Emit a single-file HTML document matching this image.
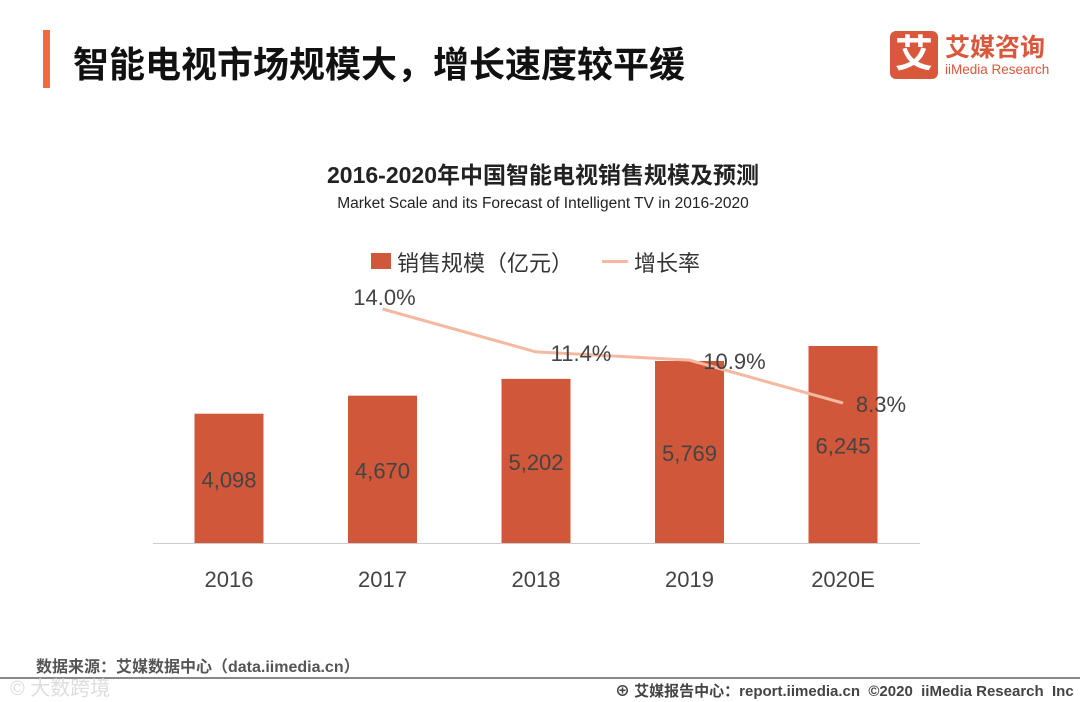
<!DOCTYPE html>
<html><head><meta charset="utf-8"><style>
body{margin:0;width:1080px;height:702px;background:#fff;overflow:hidden;font-family:"Liberation Sans","Noto Sans CJK SC",sans-serif;position:relative}
.a{position:absolute;white-space:nowrap}
</style></head><body>
<div class="a" style="left:43px;top:30px;width:7px;height:58px;background:#f26b3a"></div>
<div class="a" style="left:73px;top:36px;font-size:36px;font-weight:bold;color:#111">智能电视市场规模大，增长速度较平缓</div>
<div class="a" style="left:890px;top:31px;width:48px;height:48px;background:#d9573a;border-radius:6px;color:#fff;font-size:38px;font-weight:bold;text-align:center;line-height:48px">艾</div>
<div class="a" style="left:945px;top:28px;font-size:25px;font-weight:bold;color:#d9573a">艾媒咨询</div>
<div class="a" style="left:945px;top:62px;font-size:13.5px;color:#d9573a">iiMedia Research</div>
<div class="a" style="left:0;width:1086px;text-align:center;top:156px;font-size:23px;font-weight:bold;color:#222">2016-2020年中国智能电视销售规模及预测</div>
<div class="a" style="left:0;width:1086px;text-align:center;top:195px;font-size:15.5px;color:#222">Market Scale and its Forecast of Intelligent TV in 2016-2020</div>
<div class="a" style="left:371px;top:253px;width:20px;height:16px;background:#d0573a"></div>
<div class="a" style="left:397px;top:246px;font-size:22px;color:#333">销售规模（亿元）</div>
<div class="a" style="left:602px;top:260px;width:26px;height:3px;background:#f4b9a0"></div>
<div class="a" style="left:634px;top:246px;font-size:22px;color:#333">增长率</div>
<svg class="a" style="left:0;top:0" width="1080" height="702">
<g id="g"></g></svg>
<div class="a" style="left:36px;top:653px;font-size:16px;color:#555;font-weight:bold">数据来源：艾媒数据中心（data.iimedia.cn）</div>
<div class="a" style="left:0;top:677px;width:1080px;height:2px;background:#888"></div>
<div class="a" style="left:10px;top:672px;font-size:20px;color:#ddd">© 大数跨境</div>
<div class="a" style="left:615px;top:680px;font-size:15px;color:#444;font-weight:bold">⊕ 艾媒报告中心：report.iimedia.cn &nbsp;©2020 &nbsp;iiMedia Research &nbsp;Inc</div>
<script>
const categories=["2016","2017","2018","2019","2020E"];
const sales=[4098,4670,5202,5769,6245];
const salesLabels=["4,098","4,670","5,202","5,769","6,245"];
const growth=[null,14.0,11.4,10.9,8.3];
const NS="http://www.w3.org/2000/svg",g=document.getElementById('g');
const x=i=>229+i*153.5, yb=v=>543-v*0.03155, yl=v=>540-v*16.5;
function mk(t,a,txt){const e=document.createElementNS(NS,t);for(const k in a)e.setAttribute(k,a[k]);if(txt!=null)e.textContent=txt;g.appendChild(e);return e;}
let ax=mk('line',{x1:153,x2:920,y1:543.5,y2:543.5,stroke:'#ccc','stroke-width':1});


sales.forEach((v,i)=>{
 let r=mk('rect',{x:x(i)-34.5,y:yb(v),width:69,height:543-yb(v),fill:'#d0573a'});
 
 
 let t=mk('text',{x:x(i),y:(yb(v)+543)/2+9,'text-anchor':'middle','font-size':22,fill:'#444','font-family':'Liberation Sans'},salesLabels[i]);
 
 
 let c=mk('text',{x:x(i),y:587,'text-anchor':'middle','font-size':22,fill:'#444','font-family':'Liberation Sans'},categories[i]);
 
 
});
const pts=[];growth.forEach((v,i)=>{if(v!=null)pts.push([x(i),yl(v),v,i]);});
let p=mk('polyline',{points:pts.map(q=>q[0]+','+q[1]).join(' '),fill:'none',stroke:'#f4b9a0','stroke-width':3});


pts.forEach((q,k)=>{
 let tx=k==0?q[0]+2:(k==3?q[0]+38:q[0]+45), ty=k==0?q[1]-4:q[1]+9;
 let t=mk('text',{x:tx,y:ty,'text-anchor':'middle','font-size':22,fill:'#444','font-family':'Liberation Sans'},q[2].toFixed(1)+'%');
 
 
});
</script>
</body></html>
